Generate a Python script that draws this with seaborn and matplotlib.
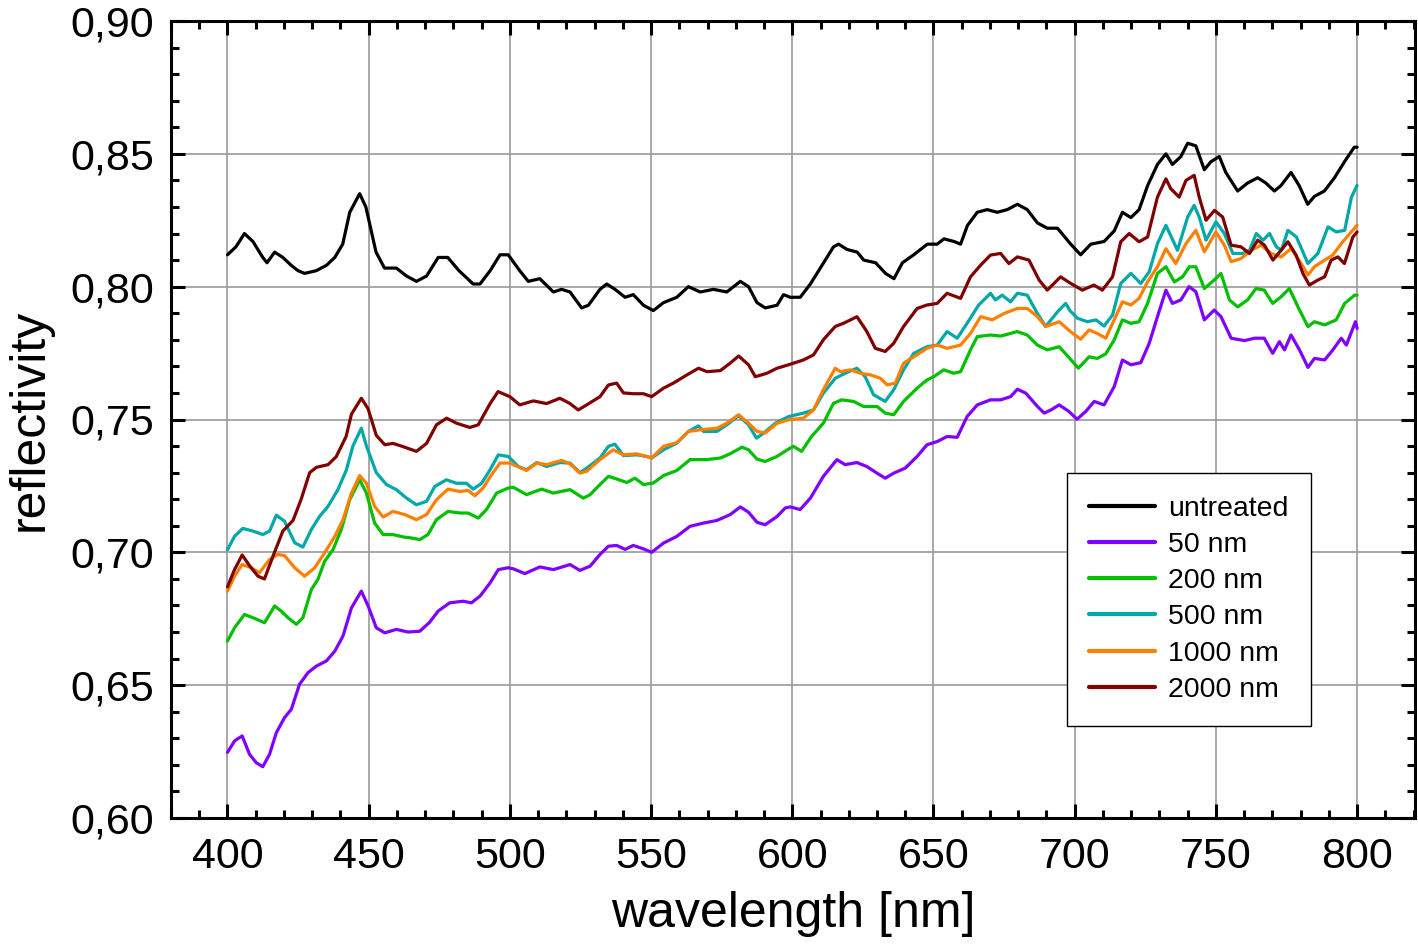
import matplotlib
matplotlib.use("Agg")
import matplotlib.pyplot as plt
from matplotlib.ticker import MultipleLocator, FuncFormatter
import seaborn as sns
import pandas as pd

# ---------------- data ----------------
series_names = ["untreated", "50 nm", "200 nm", "500 nm", "1000 nm", "2000 nm"]
series_colors = ["#000000", "#8000FF", "#00C000", "#00A8A8", "#FF8000", "#800000"]

wl_untreated = [
    400, 403, 406, 409, 412.5, 414, 416.7, 419.6, 422.6, 425,
    427.3, 431.4, 435, 438, 440.8, 443.3, 446.8, 449, 452.6, 455.6,
    459.8, 463.4, 466.9, 470.5, 474.6, 478, 482, 487, 489.4, 493,
    496.5, 499.4, 503.5, 506.5, 510.6, 515.4, 518.3, 521.3, 525.4, 527.8,
    531.9, 534.3, 537.2, 540.8, 543.7, 547.3, 550.8, 554.4, 559.1, 563.2,
    567.4, 572.1, 576.8, 581.6, 584.5, 587.5, 590.4, 594.6, 596.9, 599.3,
    602.8, 606.4, 610.5, 614.6, 616.4, 619.4, 623, 625.3, 629.5, 633,
    636, 639, 643, 647.8, 651.3, 653.7, 657.3, 659.6, 662, 665.5,
    669, 672.6, 676.1, 679.7, 683.2, 686.8, 690.3, 693.9, 698.6, 702.1,
    705.7, 710.4, 714, 716.9, 719.9, 722.8, 725.8, 729.3, 732.3, 734.6,
    737.6, 740, 742.9, 745.9, 748.2, 751.2, 753.5, 757.7, 761.2, 764.8,
    767.7, 770.7, 773, 776.6, 779.5, 782.5, 784.9, 788.4, 792, 795.5,
    799, 800]
r_untreated = [
    0.812, 0.815, 0.820, 0.817, 0.811, 0.809, 0.813, 0.811, 0.808, 0.806,
    0.805, 0.806, 0.808, 0.811, 0.816, 0.828, 0.835, 0.830, 0.813, 0.807,
    0.807, 0.804, 0.802, 0.804, 0.811, 0.811, 0.806, 0.801, 0.801, 0.806,
    0.812, 0.812, 0.806, 0.802, 0.803, 0.798, 0.799, 0.798, 0.792, 0.793,
    0.799, 0.801, 0.799, 0.796, 0.797, 0.793, 0.791, 0.794, 0.796, 0.800,
    0.798, 0.799, 0.798, 0.802, 0.800, 0.794, 0.792, 0.793, 0.797, 0.796,
    0.796, 0.801, 0.808, 0.815, 0.816, 0.814, 0.813, 0.810, 0.809, 0.805,
    0.803, 0.809, 0.812, 0.816, 0.816, 0.818, 0.817, 0.816, 0.823, 0.828,
    0.829, 0.828, 0.829, 0.831, 0.829, 0.824, 0.822, 0.822, 0.816, 0.812,
    0.816, 0.817, 0.821, 0.828, 0.826, 0.829, 0.838, 0.846, 0.850, 0.846,
    0.849, 0.854, 0.853, 0.844, 0.847, 0.849, 0.843, 0.836, 0.839, 0.841,
    0.839, 0.836, 0.838, 0.843, 0.838, 0.831, 0.834, 0.836, 0.841, 0.847,
    0.8525, 0.8525]

wl_50 = [
    400, 402.5, 405.2, 407.8, 410.2, 412.5, 414.9, 417.3, 420.2, 422.6,
    425.5, 428.5, 431.5, 435, 438, 440.9, 443.9, 447.4, 449.8, 452.7,
    455.7, 459.8, 463.9, 468.1, 471.6, 474.6, 478.7, 483.4, 486.4, 489.4,
    493, 495.9, 499.4, 501.2, 505.3, 510.6, 515.4, 521.3, 524.8, 528.4,
    531.9, 534.9, 537.8, 540.8, 543.7, 547.3, 550.2, 554.4, 559.1, 563.8,
    568.5, 573.3, 578, 581.6, 584.5, 587.5, 590.4, 594.6, 597.5, 599.3,
    602.8, 606.4, 611, 615.8, 618.7, 622.9, 626.4, 630, 632.9, 635.9,
    640, 644.2, 647.7, 651.3, 654.8, 658.4, 661.9, 665.5, 670.2, 673.8,
    677.3, 679.7, 682.7, 686.8, 689.2, 691.6, 694.5, 698, 700.8, 703.9,
    706.9, 710.4, 714, 716.9, 719.9, 723.4, 726.4, 729.3, 732.3, 734.6,
    737.6, 740.5, 742.9, 745.9, 749.4, 751.8, 755.4, 760.1, 763.7, 767.1,
    770.1, 772.5, 774.3, 776.6, 779.6, 782.6, 784.9, 788.5, 791.4, 794.4,
    796.2, 799.4, 800]
r_50 = [
    0.6247, 0.629, 0.6309, 0.624, 0.6208, 0.6193, 0.624, 0.6321, 0.6378, 0.6409,
    0.6503, 0.6547, 0.6572, 0.6591, 0.6628, 0.6685, 0.6791, 0.6854, 0.6798, 0.6716,
    0.6697, 0.671, 0.670, 0.6703, 0.6737, 0.6779, 0.681, 0.6816, 0.681, 0.6835,
    0.6885, 0.6935, 0.6942, 0.6938, 0.692, 0.6945, 0.6935, 0.6954, 0.6932, 0.6948,
    0.6992, 0.7023, 0.7026, 0.7011, 0.7026, 0.7013, 0.700, 0.7035, 0.706, 0.7098,
    0.711, 0.712, 0.7142, 0.7171, 0.7151, 0.7113, 0.7104, 0.7135, 0.7167, 0.7171,
    0.7161, 0.7204, 0.7286, 0.7349, 0.733, 0.7338, 0.7323, 0.7298, 0.7279, 0.7298,
    0.7317, 0.7361, 0.7405, 0.7417, 0.7436, 0.7433, 0.7511, 0.7555, 0.7574, 0.7574,
    0.7586, 0.7614, 0.7599, 0.7549, 0.7524, 0.7536, 0.7555, 0.753, 0.7501, 0.753,
    0.7568, 0.7555, 0.7624, 0.7724, 0.7706, 0.7714, 0.7787, 0.7887, 0.7987, 0.7937,
    0.795, 0.800, 0.7981, 0.7875, 0.7912, 0.7887, 0.7806, 0.7797, 0.7806, 0.7806,
    0.7749, 0.7793, 0.7762, 0.7818, 0.7762, 0.7696, 0.773, 0.7724, 0.7762, 0.7806,
    0.778, 0.7868, 0.7843]

wl_200 = [
    400, 402.5, 406, 409, 413.1, 416.7, 419, 421.4, 424.4, 426.7,
    429.7, 432, 434.4, 437.4, 440.3, 443.3, 446.8, 449.2, 452.1, 455.1,
    458.6, 462.2, 465.1, 468.1, 471, 474, 478.1, 482.3, 485.2, 488.8,
    491.7, 495.3, 499.4, 501.2, 505.9, 511.2, 515.4, 521.3, 526, 528.4,
    531.9, 534.9, 537.8, 541.4, 544.3, 547.3, 550.8, 554.4, 559.1, 563.8,
    569.7, 574.5, 578, 582.2, 584.5, 587.5, 590.4, 594.6, 598.7, 600.4,
    603.3, 606.8, 611, 614.6, 617.5, 621.7, 625.2, 630, 632.9, 635.9,
    639.4, 644.2, 647.7, 650.1, 653.6, 657.2, 659.6, 663.1, 665.5, 670.2,
    673.8, 677.3, 679.7, 683.2, 686.8, 690.3, 694.5, 698, 701.3, 705.1,
    708, 711, 714, 716.9, 719.9, 722.8, 725.8, 729.3, 732.3, 735.3,
    738.2, 740.6, 742.9, 745.9, 749.4, 751.8, 754.8, 757.7, 761.2, 764.2,
    767.1, 770.1, 773.1, 776, 779.6, 782.6, 784.9, 788.5, 792.6, 795.6,
    799.1, 800]
r_200 = [
    0.6666, 0.6716, 0.6766, 0.6754, 0.6735, 0.6798, 0.6779, 0.6754, 0.6729, 0.6754,
    0.686, 0.6898, 0.6966, 0.7011, 0.7086, 0.7198, 0.7273, 0.7223, 0.711, 0.7067,
    0.7067, 0.7058, 0.7054, 0.7048, 0.7067, 0.7123, 0.7154, 0.7148, 0.7148, 0.7129,
    0.7161, 0.7223, 0.7242, 0.7245, 0.7217, 0.7238, 0.7223, 0.7236, 0.7204, 0.7217,
    0.7255, 0.7286, 0.7276, 0.7263, 0.7279, 0.7255, 0.7261, 0.7289, 0.7308, 0.7349,
    0.7349, 0.7355, 0.7371, 0.7396, 0.7386, 0.7351, 0.7342, 0.7361, 0.7389, 0.7399,
    0.738, 0.7436, 0.7486, 0.7561, 0.7574, 0.7568, 0.7549, 0.7549, 0.7524, 0.7518,
    0.7568, 0.7618, 0.7649, 0.7661, 0.7687, 0.7674, 0.768, 0.7762, 0.7812, 0.7818,
    0.7814, 0.7824, 0.7831, 0.7818, 0.778, 0.7762, 0.7774, 0.7733, 0.7693, 0.7736,
    0.773, 0.7747, 0.780, 0.7875, 0.7862, 0.7868, 0.7937, 0.805, 0.8075, 0.8018,
    0.8037, 0.8075, 0.8075, 0.7993, 0.8025, 0.805, 0.795, 0.7924, 0.795, 0.7993,
    0.7987, 0.7937, 0.7962, 0.7993, 0.7912, 0.785, 0.7868, 0.7856, 0.7875, 0.7937,
    0.7968, 0.7968]

wl_500 = [
    400, 402.5, 405.4, 409, 412.5, 414.9, 417.3, 420.2, 423.8, 426.7,
    429.7, 432.6, 435.6, 439.1, 442.1, 444.4, 447.4, 449.2, 452.7, 456.3,
    459.8, 463.4, 466.9, 470.5, 473.4, 477.5, 481.1, 484.6, 487, 490,
    493, 495.9, 499.4, 503, 505.9, 509.5, 513, 517.7, 521.3, 524.8,
    527.2, 531.9, 534.9, 537.2, 540.2, 544.9, 548.5, 550.2, 554.4, 559.1,
    563.2, 566.8, 568.6, 573.3, 576.8, 581, 584.5, 587.3, 589.9, 594,
    598.7, 603.9, 607.5, 611, 615.2, 618.7, 622.9, 625.8, 628.8, 632.9,
    635.9, 639.4, 643, 647.7, 651.3, 654.8, 658.4, 661.9, 666, 670.2,
    671.9, 674.3, 677.3, 679.7, 683.2, 686.8, 689.7, 693.9, 696.8, 698.3,
    701, 704.5, 707.5, 710.4, 713.4, 716.3, 719.9, 723.4, 726.4, 729.3,
    732.3, 736.4, 740, 742.3, 744.1, 746.5, 750, 753, 756, 759.5,
    761.9, 764.3, 766.7, 769, 771.4, 773.2, 775.5, 778.5, 782.6, 786.1,
    789.7, 792.6, 795.6, 798, 800]
r_500 = [
    0.701, 0.706, 0.709, 0.708, 0.7067, 0.708, 0.714, 0.7117, 0.7036, 0.702,
    0.7086, 0.7135, 0.7173, 0.7236, 0.731, 0.740, 0.7467, 0.740, 0.730, 0.7255,
    0.7236, 0.7204, 0.7179, 0.7192, 0.7248, 0.7273, 0.726, 0.726, 0.7238, 0.726,
    0.7311, 0.7367, 0.7361, 0.7323, 0.7311, 0.7338, 0.7323, 0.7338, 0.7336, 0.730,
    0.7317, 0.7355, 0.7399, 0.7407, 0.7364, 0.7367, 0.7361, 0.7355, 0.7386, 0.7411,
    0.7455, 0.7476, 0.7455, 0.7455, 0.748, 0.7514, 0.748, 0.743, 0.7449, 0.7486,
    0.7511, 0.7524, 0.7536, 0.7599, 0.7655, 0.7674, 0.7693, 0.7661, 0.7593, 0.7568,
    0.7612, 0.7687, 0.7749, 0.7774, 0.778, 0.7831, 0.7806, 0.7862, 0.7931, 0.7975,
    0.795, 0.7968, 0.7943, 0.7975, 0.7968, 0.7899, 0.785, 0.7905, 0.7937, 0.791,
    0.7881, 0.7868, 0.7875, 0.7852, 0.7893, 0.8012, 0.805, 0.8012, 0.8056, 0.8162,
    0.8231, 0.8137, 0.8262, 0.8306, 0.8262, 0.8175, 0.8244, 0.820, 0.8125, 0.8125,
    0.8137, 0.820, 0.8175, 0.820, 0.815, 0.8137, 0.8212, 0.8187, 0.8087, 0.8125,
    0.8225, 0.8206, 0.8212, 0.8337, 0.8381]

wl_1000 = [
    400, 402.5, 405.2, 408.4, 411.3, 414.9, 417.8, 420.2, 423.8, 427.3,
    430.9, 434.4, 438, 440.9, 443.9, 446.8, 449.2, 452.1, 455.1, 458.6,
    462.8, 466.9, 470.5, 474, 478.1, 482.3, 485.2, 487.6, 490.5, 493.5,
    496.5, 500, 505.9, 509.5, 513, 518.3, 521.3, 524.8, 527.2, 531.9,
    536.6, 540.2, 544.9, 550.2, 554.4, 559.1, 563.2, 567.4, 573.3, 576.8,
    581, 584.5, 587.5, 590.4, 594.6, 598.7, 603.9, 607.5, 611, 615.2,
    617, 620.6, 624.1, 627.7, 631.2, 633.6, 636.5, 639.4, 643, 647.7,
    651.3, 654.8, 659.6, 663.1, 666.7, 670.8, 675, 679.7, 683.2, 686.8,
    689.7, 694.5, 698.6, 702.1, 705.1, 708, 711, 714.5, 716.9, 719.9,
    722.8, 725.8, 729.3, 732.3, 735.8, 739.4, 742.9, 745.9, 750, 753,
    755.4, 758.9, 762.5, 766, 769.6, 773.1, 776.6, 780.2, 782.6, 784.9,
    788.5, 791.4, 794.4, 797.4, 800]
r_1000 = [
    0.6854, 0.691, 0.6954, 0.6942, 0.6923, 0.6973, 0.6992, 0.6988, 0.6942, 0.691,
    0.6942, 0.6998, 0.706, 0.7123, 0.7223, 0.7289, 0.726, 0.7173, 0.7133, 0.7154,
    0.7142, 0.7123, 0.7142, 0.7198, 0.7238, 0.7229, 0.7233, 0.7213, 0.7242, 0.7292,
    0.7336, 0.7336, 0.7308, 0.7336, 0.733, 0.7346, 0.7333, 0.7298, 0.7305, 0.7349,
    0.7386, 0.7367, 0.7371, 0.7355, 0.7399, 0.7413, 0.7455, 0.7461, 0.7467, 0.7486,
    0.7518, 0.7486, 0.7455, 0.7449, 0.7486, 0.7499, 0.7505, 0.7536, 0.7612, 0.7693,
    0.768, 0.7687, 0.7674, 0.7668, 0.7655, 0.763, 0.7637, 0.7712, 0.7736, 0.7768,
    0.778, 0.7768, 0.778, 0.7824, 0.7887, 0.7875, 0.7899, 0.7918, 0.7918, 0.7887,
    0.785, 0.7868, 0.783, 0.7802, 0.7837, 0.7824, 0.7806, 0.7887, 0.7943, 0.7931,
    0.7956, 0.8018, 0.8075, 0.8143, 0.8087, 0.8162, 0.8212, 0.8131, 0.8206, 0.8156,
    0.8094, 0.8106, 0.8137, 0.8156, 0.8125, 0.8112, 0.8143, 0.8087, 0.8044, 0.8075,
    0.810, 0.8119, 0.8162, 0.820, 0.8231]

wl_2000 = [
    400, 402.5, 405.2, 407.8, 410.8, 413.1, 416.1, 419.6, 423.2, 426.1,
    429.1, 431.5, 435.6, 438.5, 442, 443.9, 447.4, 449.8, 452.7, 455.7,
    458.6, 461.6, 466.9, 470.5, 474, 477.6, 481.1, 485.8, 488.8, 493,
    495.8, 500, 503.5, 508.3, 513, 517.7, 521.3, 524.2, 527.2, 531.9,
    534.9, 537.8, 540.2, 543.7, 547.3, 550.2, 554.4, 557.9, 562.7, 566.8,
    569.8, 574.5, 578, 581, 584.5, 586.9, 591, 594.6, 598.7, 603.9,
    607.5, 611, 615.2, 618.1, 622.9, 626.4, 629.4, 632.9, 635.9, 639.4,
    644.2, 647.7, 651.3, 654.8, 659.6, 663.1, 666.7, 670.2, 673.8, 676.7,
    679.7, 683.8, 687.4, 690.3, 695, 698.6, 702.7, 706.8, 709.8, 713.4,
    716.3, 719.3, 722.8, 725.8, 729.3, 732.3, 734, 737, 739.4, 742.3,
    744.1, 746.5, 749.5, 752.4, 755.4, 758.9, 761.9, 764.8, 767.2, 770.2,
    773.1, 775.5, 778.4, 780.8, 783.1, 786.1, 788.5, 790.8, 793.2, 795.5,
    798.5, 800]
r_2000 = [
    0.687, 0.6935, 0.699, 0.695, 0.691, 0.690, 0.6985, 0.708, 0.712, 0.720,
    0.730, 0.732, 0.733, 0.736, 0.7436, 0.752, 0.758, 0.754, 0.744, 0.7405,
    0.741, 0.740, 0.738, 0.741, 0.748, 0.7505, 0.7486, 0.747, 0.748, 0.756,
    0.7605, 0.7586, 0.7555, 0.757, 0.756, 0.758, 0.756, 0.7536, 0.7555, 0.7586,
    0.763, 0.7637, 0.760, 0.7597, 0.7597, 0.7586, 0.7618, 0.7637, 0.7668, 0.7693,
    0.768, 0.7684, 0.7712, 0.7739, 0.7706, 0.7661, 0.7674, 0.7693, 0.7706, 0.7724,
    0.7743, 0.780, 0.785, 0.7862, 0.7887, 0.7831, 0.7768, 0.7756, 0.7787, 0.785,
    0.7918, 0.7931, 0.7937, 0.7975, 0.7956, 0.8037, 0.8081, 0.8119, 0.8125, 0.8087,
    0.8112, 0.810, 0.8025, 0.7987, 0.8037, 0.8012, 0.7987, 0.8006, 0.7987, 0.8037,
    0.8169, 0.820, 0.8169, 0.8187, 0.8337, 0.8406, 0.8369, 0.8337, 0.840, 0.8419,
    0.8337, 0.825, 0.8287, 0.8262, 0.8156, 0.815, 0.8125, 0.8175, 0.8156, 0.810,
    0.8137, 0.8169, 0.8119, 0.805, 0.8006, 0.8025, 0.8037, 0.810, 0.8112, 0.8087,
    0.8187, 0.8206]

x_ticks = [400, 450, 500, 550, 600, 650, 700, 750, 800]
y_ticks = [0.60, 0.65, 0.70, 0.75, 0.80, 0.85, 0.90]

# ---------------- build table ----------------
all_wl = [wl_untreated, wl_50, wl_200, wl_500, wl_1000, wl_2000]
all_r = [r_untreated, r_50, r_200, r_500, r_1000, r_2000]
frames = []
for name, w, r in zip(series_names, all_wl, all_r):
    frames.append(pd.DataFrame({"wavelength": w, "reflectivity": r, "sample": name}))
df = pd.concat(frames, ignore_index=True)

# ---------------- style ----------------
sns.set_style("ticks")
plt.rcParams["font.family"] = ["Liberation Sans", "DejaVu Sans"]
plt.rcParams["text.color"] = "black"
plt.rcParams["axes.labelcolor"] = "black"

fig = plt.figure(figsize=(14.18, 9.44), dpi=100)
ax = fig.add_axes([171 / 1418, 1 - 818 / 944, (1415 - 171) / 1418, (818 - 21) / 944])

sns.lineplot(data=df, x="wavelength", y="reflectivity", hue="sample",
             hue_order=series_names, palette=dict(zip(series_names, series_colors)),
             estimator=None, sort=True, linewidth=2.3, ax=ax, legend=True)

ax.set_xlim(380, 820.5)
ax.set_ylim(0.60, 0.90)
ax.set_xticks(x_ticks)
ax.set_yticks(y_ticks)
ax.xaxis.set_minor_locator(MultipleLocator(10))
ax.yaxis.set_minor_locator(MultipleLocator(0.01))
ax.yaxis.set_major_formatter(FuncFormatter(lambda v, p: f"{v:.2f}".replace(".", ",")))
ax.xaxis.set_major_formatter(FuncFormatter(lambda v, p: f"{v:.0f}"))

ax.grid(True, which="major", color="#9a9a9a", linewidth=1.2)
ax.set_axisbelow(True)
for s in ax.spines.values():
    s.set_visible(True)
    s.set_linewidth(2.2)
    s.set_color("black")

ax.tick_params(which="both", direction="in", top=True, right=True, width=2.2,
               colors="black", labelcolor="black")
ax.tick_params(which="major", length=10, labelsize=31)
ax.tick_params(axis="x", which="major", pad=14)
ax.tick_params(axis="y", which="major", pad=12)
ax.tick_params(which="minor", length=6)

ax.set_xlabel("wavelength [nm]", fontsize=36, labelpad=10, color="black")
ax.set_ylabel("reflectivity", fontsize=36, labelpad=13, color="black")

handles, labels = ax.get_legend_handles_labels()
leg = ax.legend(handles, labels, loc="upper left", bbox_to_anchor=(0.72, 0.433),
                borderaxespad=0, fontsize=20.5, frameon=True, fancybox=False,
                edgecolor="black", framealpha=1, handlelength=2.3, handletextpad=0.45,
                labelspacing=0.36, borderpad=0.8)
leg.get_frame().set_linewidth(1.0)
for t in leg.get_texts():
    t.set_color("black")
for h in leg.get_lines():
    h.set_linewidth(3)

fig.savefig("out.png", dpi=100)
